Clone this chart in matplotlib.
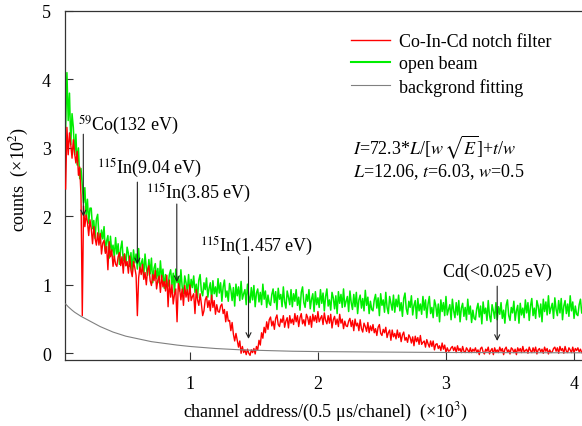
import numpy as np
import matplotlib
matplotlib.use("Agg")
import matplotlib.pyplot as plt
from matplotlib.lines import Line2D

# ---------------- data (x in units of 10^3 channels, y in units of 10^2 counts) -------------
channel_start = 0.03
channel_step = 0.01

open_beam = [
    3.30, 4.10, 3.40, 3.80, 3.05, 3.50, 3.30, 2.90, 3.20, 2.75, 3.00, 2.55, 2.70, 2.45, 2.20, 2.42, 2.00, 2.25, 1.90, 2.12,
    2.12, 1.82, 1.94, 1.68, 1.96, 2.03, 1.72, 1.61, 1.80, 1.67, 1.85, 1.49, 1.64, 1.72, 1.39, 1.71, 1.48, 1.58, 1.40, 1.69,
    1.45, 1.60, 1.30, 1.53, 1.64, 1.35, 1.45, 1.28, 1.55, 1.46, 1.27, 1.47, 1.17, 1.51, 1.32, 1.45, 1.23, 1.53, 1.23, 1.31,
    1.38, 1.13, 1.45, 1.25, 1.14, 1.37, 1.16, 1.39, 1.03, 1.24, 1.31, 1.09, 1.24, 1.03, 1.35, 1.10, 1.23, 0.95, 1.15, 1.01,
    0.98, 1.15, 1.22, 1.00, 1.17, 0.88, 1.23, 1.03, 1.12, 0.91, 1.22, 0.97, 0.87, 1.13, 1.03, 0.90, 1.15, 0.87, 1.08, 0.96,
    1.13, 0.89, 1.01, 0.81, 1.07, 1.15, 0.91, 0.84, 1.03, 0.93, 1.10, 0.82, 0.95, 1.03, 0.77, 1.06, 0.87, 0.97, 0.83, 1.09,
    0.88, 1.03, 0.76, 0.97, 1.07, 0.82, 0.91, 0.76, 1.02, 0.93, 0.77, 0.96, 0.69, 1.01, 0.84, 0.97, 0.77, 1.05, 0.79, 0.87,
    0.93, 0.71, 1.01, 0.84, 0.74, 0.96, 0.78, 0.99, 0.68, 0.88, 0.94, 0.75, 0.89, 0.71, 1.01, 0.79, 0.91, 0.67, 0.85, 0.73,
    0.70, 0.86, 0.94, 0.74, 0.90, 0.64, 0.95, 0.79, 0.86, 0.68, 0.97, 0.75, 0.66, 0.91, 0.82, 0.71, 0.93, 0.68, 0.87, 0.76,
    0.93, 0.70, 0.82, 0.63, 0.89, 0.97, 0.74, 0.67, 0.86, 0.76, 0.93, 0.65, 0.79, 0.87, 0.61, 0.90, 0.71, 0.81, 0.67, 0.93,
    0.73, 0.88, 0.62, 0.83, 0.94, 0.69, 0.78, 0.63, 0.89, 0.81, 0.65, 0.84, 0.58, 0.90, 0.73, 0.86, 0.67, 0.94, 0.68, 0.76,
    0.83, 0.61, 0.91, 0.74, 0.64, 0.86, 0.68, 0.89, 0.58, 0.78, 0.85, 0.66, 0.80, 0.62, 0.92, 0.70, 0.82, 0.58, 0.76, 0.64,
    0.62, 0.78, 0.86, 0.66, 0.81, 0.55, 0.87, 0.70, 0.78, 0.60, 0.89, 0.67, 0.58, 0.83, 0.73, 0.63, 0.85, 0.60, 0.79, 0.68,
    0.85, 0.62, 0.74, 0.54, 0.80, 0.88, 0.65, 0.57, 0.76, 0.67, 0.84, 0.56, 0.70, 0.77, 0.51, 0.80, 0.62, 0.72, 0.57, 0.83,
    0.63, 0.78, 0.52, 0.72, 0.83, 0.58, 0.67, 0.52, 0.78, 0.70, 0.54, 0.72, 0.46, 0.78, 0.61, 0.74, 0.55, 0.83, 0.56, 0.64,
    0.71, 0.49, 0.79, 0.62, 0.52, 0.74, 0.56, 0.77, 0.46, 0.66, 0.73, 0.54, 0.67, 0.49, 0.79, 0.57, 0.69, 0.45, 0.63, 0.51,
    0.49, 0.65, 0.73, 0.53, 0.69, 0.43, 0.75, 0.58, 0.66, 0.48, 0.77, 0.55, 0.46, 0.71, 0.62, 0.51, 0.74, 0.49, 0.68, 0.57,
    0.74, 0.51, 0.63, 0.44, 0.70, 0.78, 0.55, 0.48, 0.67, 0.59, 0.76, 0.48, 0.62, 0.70, 0.44, 0.73, 0.56, 0.66, 0.52, 0.78,
    0.59, 0.74, 0.48, 0.69, 0.80, 0.55, 0.66, 0.51, 0.77, 0.69, 0.53, 0.72, 0.46, 0.79, 0.61, 0.75, 0.56, 0.84, 0.58, 0.66,
    0.73, 0.51, 0.81, 0.64, 0.55, 0.77, 0.59, 0.80, 0.49, 0.69, 0.77, 0.58, 0.72, 0.54, 0.84, 0.62, 0.75, 0.51, 0.69, 0.57,
    0.55, 0.71, 0.79, 0.59,
]

notch_filter = [
    2.40, 3.30, 2.90, 3.22, 3.05, 2.85, 3.12, 2.92, 2.78, 2.95, 2.60, 2.72, 2.30, 0.55, 2.15, 1.85, 2.02, 1.92, 1.72, 1.95,
    1.82, 1.60, 1.85, 1.68, 1.58, 1.76, 1.58, 1.75, 1.45, 1.61, 1.65, 1.46, 1.56, 1.22, 1.63, 1.41, 1.51, 1.27, 1.42, 1.30,
    1.27, 1.41, 1.47, 1.28, 1.41, 1.17, 1.45, 1.28, 1.34, 1.17, 1.42, 1.21, 1.12, 1.34, 1.25, 1.14, 0.55, 1.10, 1.26, 1.15,
    1.30, 1.08, 1.18, 1.00, 1.22, 1.28, 1.06, 0.99, 1.15, 1.06, 1.21, 0.94, 1.07, 1.13, 0.89, 1.14, 0.97, 1.05, 0.91, 1.14,
    0.68, 1.07, 0.82, 1.00, 0.72, 0.86, 0.94, 0.46, 1.02, 0.94, 0.78, 0.94, 0.70, 0.99, 0.82, 0.93, 0.76, 1.00, 0.77, 0.83,
    0.87, 0.58, 0.93, 0.78, 0.70, 0.87, 0.72, 0.55, 0.62, 0.78, 0.83, 0.67, 0.77, 0.62, 0.85, 0.67, 0.77, 0.57, 0.71, 0.61,
    0.60, 0.69, 0.72, 0.58, 0.64, 0.46, 0.61, 0.47, 0.48, 0.33, 0.45, 0.28, 0.18, 0.29, 0.19, 0.09, 0.18, 0.00, 0.10, 0.01,
    0.05, -0.02, 0.06, 0.00, -0.03, 0.05, 0.01, 0.07, -0.01, 0.10, 0.05, 0.19, 0.12, 0.30, 0.22, 0.38, 0.30, 0.46, 0.35, 0.49,
    0.53, 0.40, 0.47, 0.35, 0.51, 0.56, 0.42, 0.39, 0.50, 0.45, 0.55, 0.38, 0.47, 0.52, 0.37, 0.55, 0.44, 0.50, 0.42, 0.58,
    0.46, 0.55, 0.39, 0.52, 0.58, 0.43, 0.49, 0.40, 0.57, 0.52, 0.42, 0.54, 0.38, 0.57, 0.47, 0.55, 0.45, 0.61, 0.46, 0.51,
    0.55, 0.42, 0.59, 0.48, 0.43, 0.55, 0.44, 0.57, 0.37, 0.49, 0.54, 0.42, 0.50, 0.39, 0.57, 0.44, 0.50, 0.36, 0.47, 0.40,
    0.39, 0.47, 0.51, 0.39, 0.48, 0.33, 0.50, 0.40, 0.44, 0.33, 0.49, 0.36, 0.31, 0.44, 0.39, 0.32, 0.45, 0.30, 0.40, 0.33,
    0.42, 0.30, 0.36, 0.26, 0.38, 0.42, 0.29, 0.26, 0.35, 0.30, 0.38, 0.23, 0.30, 0.34, 0.19, 0.34, 0.24, 0.29, 0.21, 0.34,
    0.23, 0.30, 0.17, 0.27, 0.31, 0.19, 0.23, 0.16, 0.27, 0.23, 0.15, 0.24, 0.11, 0.25, 0.17, 0.23, 0.13, 0.26, 0.13, 0.16,
    0.18, 0.09, 0.20, 0.14, 0.09, 0.18, 0.10, 0.18, 0.05, 0.13, 0.14, 0.07, 0.11, 0.04, 0.15, 0.06, 0.12, 0.01, 0.08, 0.03,
    0.04, 0.08, 0.10, 0.04, 0.09, 0.01, 0.11, 0.04, 0.07, 0.01, 0.10, 0.03, 0.01, 0.08, 0.05, 0.01, 0.08, 0.01, 0.06, 0.03,
    0.08, 0.01, 0.05, -0.02, 0.07, 0.09, 0.02, -0.01, 0.06, 0.03, 0.09, -0.01, 0.04, 0.07, -0.02, 0.08, 0.02, 0.05, 0.01, 0.09,
    0.03, 0.07, -0.02, 0.06, 0.09, 0.02, 0.05, -0.01, 0.08, 0.06, 0.01, 0.06, -0.02, 0.08, 0.03, 0.07, 0.01, 0.10, 0.02, 0.04,
    0.06, 0.00, 0.09, 0.04, 0.01, 0.08, 0.02, 0.09, -0.01, 0.05, 0.07, 0.02, 0.06, 0.00, 0.09, 0.03, 0.07, -0.01, 0.05, 0.01,
    0.02, 0.07, 0.09, 0.03, 0.08, 0.00, 0.10, 0.04, 0.07, 0.00, 0.10, 0.03, 0.01, 0.08, 0.05, 0.01, 0.09, 0.01, 0.07, 0.04,
    0.08, 0.02, 0.06, 0.01,
]

bg_x = [0.03, 0.05, 0.08, 0.1, 0.15, 0.2, 0.25, 0.3, 0.35, 0.4, 0.45, 0.5, 0.6, 0.7, 0.8, 0.9, 1.0,
        1.1, 1.2, 1.3, 1.4, 1.6, 1.8, 2.0, 2.5, 3.0, 3.5, 4.1]
bg_y = [0.72, 0.68, 0.63, 0.60, 0.54, 0.49, 0.44, 0.39, 0.35, 0.31, 0.28, 0.25, 0.21, 0.17, 0.145, 0.12, 0.10,
        0.085, 0.07, 0.06, 0.05, 0.04, 0.03, 0.025, 0.018, 0.012, 0.009, 0.007]

series_labels = ["Co-In-Cd notch filter", "open beam", "backgrond fitting"]

# resonance annotations: label, channel of arrow, arrow top, arrow tip, text x, text y
ann_labels = [r"$^{59}$Co(132 eV)", r"$^{115}$In(9.04 eV)", r"$^{115}$In(3.85 eV)",
              r"$^{115}$In(1.457 eV)", "Cd(<0.025 eV)"]
ann_x = [0.168, 0.590, 0.898, 1.458, 3.40]
ann_top = [3.20, 2.50, 2.18, 1.41, 0.98]
ann_tip = [2.00, 1.30, 1.04, 0.21, 0.18]
ann_tx = [0.127, 0.276, 0.659, 1.080, 2.979]
ann_ty = [3.35, 2.72, 2.35, 1.57, 1.20]

x_ticks = [1, 2, 3, 4]
y_ticks = [0, 1, 2, 3, 4, 5]

# ---------------- figure -------------
plt.rcParams['font.family'] = ['Liberation Serif', 'DejaVu Serif']
plt.rcParams['mathtext.fontset'] = 'stix'
FS = 13

W, H = 582, 427
fig = plt.figure(figsize=(W / 100, H / 100), dpi=100)
ax = fig.add_axes([65 / W, (H - 361) / H, 518 / W, 349 / H])

ch = channel_start + channel_step * np.arange(len(open_beam))
ch_r = channel_start + channel_step * np.arange(len(notch_filter))

ax.plot(ch, open_beam, color='#00ee00', lw=1.1, zorder=2)
ax.plot(ch_r, notch_filter, color='#ff0000', lw=1.0, zorder=3)
ax.plot(bg_x, bg_y, color='#808080', lw=0.8, zorder=4)

ax.set_xlim(0.025, 4.07)
ax.set_ylim(-0.098, 5.0)
ax.set_xticks(x_ticks)
ax.set_yticks(y_ticks)
ax.set_xticklabels([str(t) for t in x_ticks])
ax.set_yticklabels([str(t) for t in y_ticks])
ax.tick_params(direction='in', length=6, width=0.8, color='#333333', labelsize=FS)
ax.tick_params(axis='x', pad=11)
ax.tick_params(axis='y', pad=10)
for s in ['left', 'bottom', 'top']:
    ax.spines[s].set_color('#333333')
    ax.spines[s].set_linewidth(0.9)
ax.spines['right'].set_visible(False)

ax.set_xlabel("channel address/(0.5 μs/chanel)  (×10$^3$)", fontsize=FS)
ax.set_ylabel("counts  (×10$^2$)", fontsize=FS)
ax.xaxis.set_label_coords(0.502, -0.115)
ax.yaxis.label.set_va('center')
ax.yaxis.set_label_coords(-0.088, 0.52)

for lab, x, top, tip, tx, ty in zip(ann_labels, ann_x, ann_top, ann_tip, ann_tx, ann_ty):
    ax.annotate('', xy=(x, tip), xytext=(x, top),
                arrowprops=dict(arrowstyle='->', color='#222222', lw=0.8,
                                shrinkA=0, shrinkB=0, mutation_scale=9), zorder=6)
    ax.text(tx, ty, lab, fontsize=FS, ha='left', va='center', zorder=6)

ax.text(0.556, 0.613, r"$I$=72.3*$L$/[$w\,\sqrt{E}$]+$t$/$w$", transform=ax.transAxes,
        fontsize=FS, ha='left', va='center')
ax.text(0.556, 0.5415, r"$L$=12.06, $t$=6.03, $w$=0.5", transform=ax.transAxes,
        fontsize=FS, ha='left', va='center')

h_red = Line2D([], [], color='#ff0000', lw=1.0)
h_green = Line2D([], [], color='#00ee00', lw=1.5)
h_bg = Line2D([], [], color='#808080', lw=0.8)
fig.legend([h_red, h_green, h_bg], series_labels, loc='upper left',
           bbox_to_anchor=(351 / W, 1 - 34 / H), frameon=False, fontsize=FS,
           borderpad=0, borderaxespad=0, handlelength=2.15, handletextpad=0.5,
           labelspacing=0.3)

fig.savefig("out.png", dpi=100)
